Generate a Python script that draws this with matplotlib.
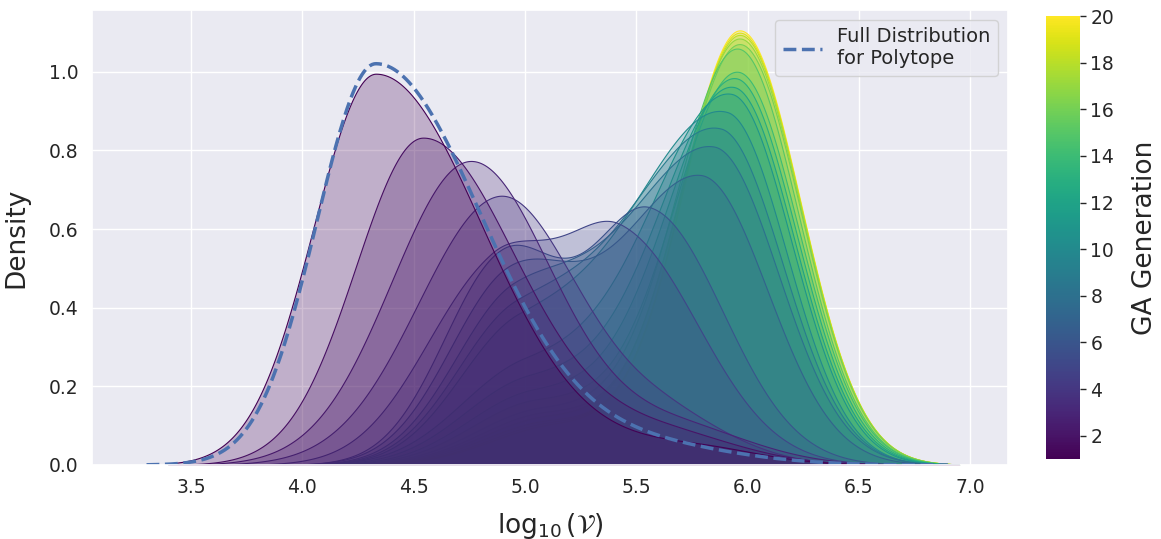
import numpy as np
import matplotlib
matplotlib.use("Agg")
import matplotlib.pyplot as plt
import seaborn as sns

# GA generations and the two bumps (low mode / high mode) of each density,
# read off the reference: centre, peak height, left spread, right spread
generation = np.arange(1, 21)

lo_mu = [4.33, 4.54, 4.75, 4.87, 4.85, 4.90, 4.93, 4.95, 4.96, 4.97,
         5.00, 5.02, 5.04, 5.06, 5.08, 5.10, 5.11, 5.12, 5.14, 5.15]
lo_h = [0.995, 0.83, 0.765, 0.65, 0.47, 0.51, 0.45, 0.40, 0.36, 0.33,
        0.24, 0.21, 0.18, 0.16, 0.14, 0.13, 0.12, 0.11, 0.105, 0.10]
lo_sl = [0.28, 0.30, 0.35, 0.36, 0.31, 0.27, 0.28, 0.28, 0.28, 0.28,
         0.30, 0.30, 0.30, 0.30, 0.30, 0.30, 0.30, 0.30, 0.30, 0.30]
lo_sr = [0.48, 0.42, 0.36, 0.33, 0.25, 0.25, 0.30, 0.35, 0.40, 0.45,
         0.45, 0.45, 0.45, 0.45, 0.45, 0.45, 0.45, 0.45, 0.45, 0.45]

hi_mu = [5.75, 5.60, 5.65, 5.55, 5.43, 5.56, 5.79, 5.85, 5.88, 5.91,
         5.93, 5.94, 5.95, 5.96, 5.96, 5.97, 5.97, 5.97, 5.97, 5.97]
hi_h = [0.045, 0.08, 0.10, 0.14, 0.58, 0.64, 0.73, 0.795, 0.83, 0.86,
        0.915, 0.935, 0.96, 0.978, 1.038, 1.05, 1.065, 1.075, 1.08, 1.086]
hi_sl = [0.35, 0.40, 0.40, 0.40, 0.28, 0.28, 0.38, 0.40, 0.40, 0.40,
         0.36, 0.33, 0.31, 0.29, 0.28, 0.27, 0.27, 0.26, 0.26, 0.26]
hi_sr = [0.30, 0.35, 0.35, 0.33, 0.35, 0.33, 0.30, 0.29, 0.28, 0.27,
         0.27, 0.27, 0.27, 0.27, 0.27, 0.27, 0.27, 0.27, 0.27, 0.27]

# full distribution for the polytope (dashed line)
full_mu = [4.33, 5.55]
full_h = [1.02, 0.045]
full_sl = [0.265, 0.40]
full_sr = [0.48, 0.40]


def bump(x, mu, h, sl, sr):
    s = np.where(x < mu, sl, sr)
    return h * np.exp(-0.5 * ((x - mu) / s) ** 2)


sns.set_theme(style="darkgrid")

fig = plt.figure(figsize=(11.61, 5.39), dpi=100)
ax = fig.add_axes([92 / 1161, 1 - 465 / 539, 916 / 1161, 455 / 539])
cax = fig.add_axes([1046 / 1161, 1 - 459 / 539, 34 / 1161, 443 / 539])

cmap = plt.get_cmap("viridis")
norm = matplotlib.colors.Normalize(vmin=generation.min(), vmax=generation.max())
to_rgba = matplotlib.colors.to_rgba

xs = np.linspace(3.40, 6.95, 800)
# seaborn draws the hue levels in reverse, so the first generation ends on top;
# the edge belongs to the same patch, so later fills cover earlier outlines
for i in reversed(range(len(generation))):
    y = (bump(xs, lo_mu[i], lo_h[i], lo_sl[i], lo_sr[i])
         + bump(xs, hi_mu[i], hi_h[i], hi_sl[i], hi_sr[i]))
    col = cmap(norm(generation[i]))
    ax.fill_between(xs, 0, y, facecolor=to_rgba(col, 0.25),
                    edgecolor=to_rgba(col, 1.0), linewidth=0.8)

xf = np.linspace(3.30, 6.90, 800)
yf = sum(bump(xf, full_mu[k], full_h[k], full_sl[k], full_sr[k]) for k in range(len(full_mu)))
ax.plot(xf, yf, color="#4C72B0", linestyle="--", linewidth=2.5,
        label="Full Distribution\nfor Polytope")

ax.set_xlim(3.055, 7.17)
ax.set_ylim(0, 1.157)
ax.set_xticks([3.5, 4.0, 4.5, 5.0, 5.5, 6.0, 6.5, 7.0])
ax.set_yticks([0.0, 0.2, 0.4, 0.6, 0.8, 1.0])
ax.tick_params(labelsize=13.5)
ax.set_xlabel(r"$\log_{10}(\mathcal{V})$", fontsize=19, labelpad=10)
ax.set_ylabel("Density", fontsize=19, labelpad=14)
ax.legend(loc="upper right", fontsize=14)

sm = matplotlib.cm.ScalarMappable(norm=norm, cmap=cmap)
cbar = fig.colorbar(sm, cax=cax, ticks=range(2, 21, 2))
cbar.outline.set_visible(False)
cbar.ax.tick_params(labelsize=13.5, right=True, length=4, width=1, color="#262626")
cbar.set_label("GA Generation", fontsize=19, labelpad=13)

fig.savefig("out.png", dpi=100)
